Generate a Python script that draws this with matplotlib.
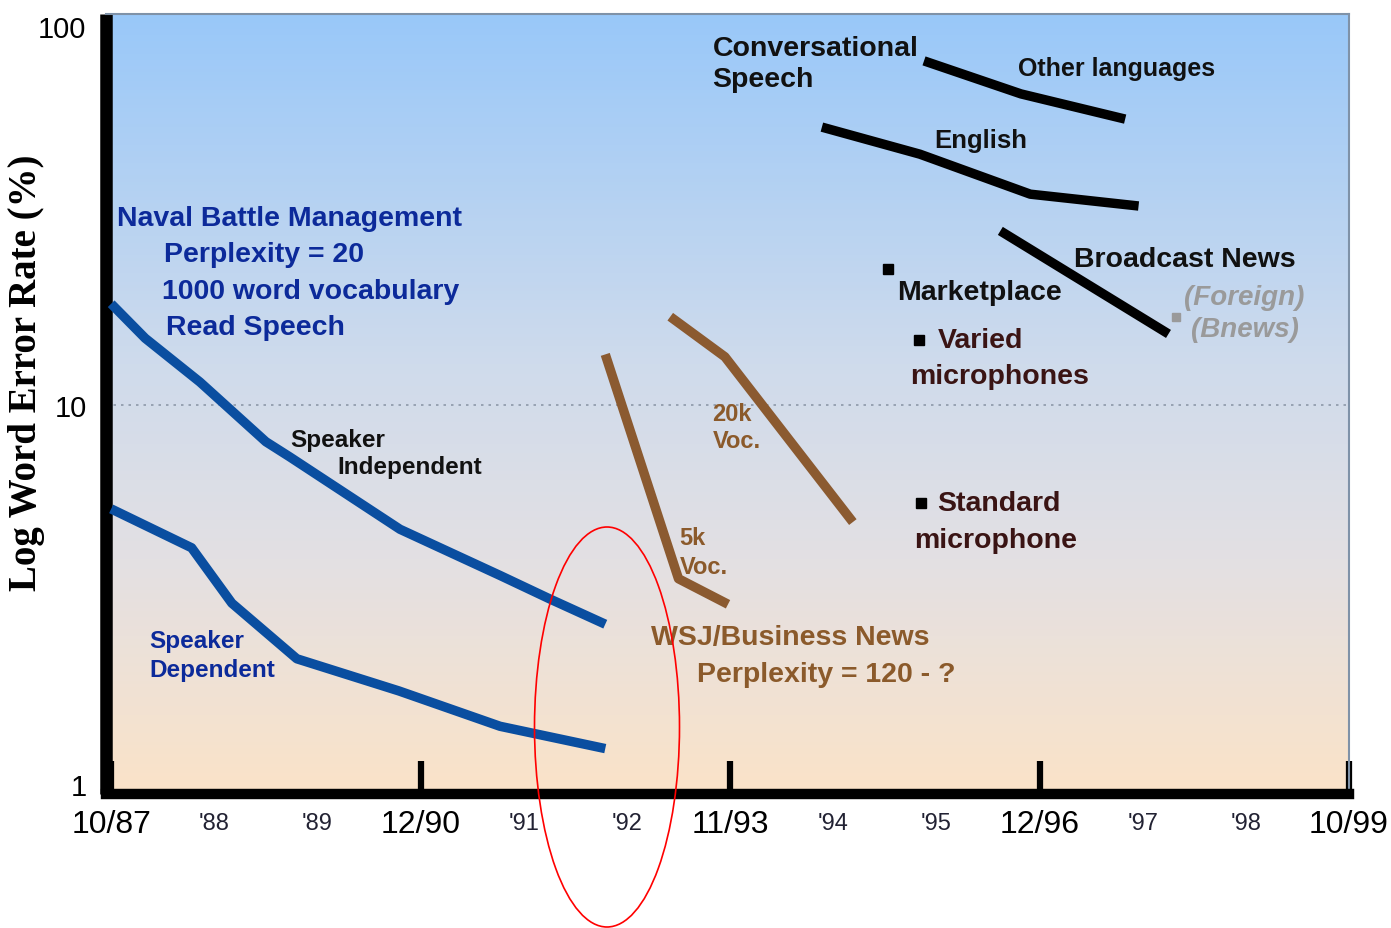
import numpy as np
import matplotlib
matplotlib.use("Agg")
import matplotlib.pyplot as plt
from matplotlib.colors import LinearSegmentedColormap
from matplotlib.patches import Ellipse

# ---------------- data ----------------
tick_pos = [0, 1, 2, 3, 4, 5, 6, 7, 8, 9, 10, 11, 12]
tick_labels = ["10/87", "'88", "'89", "12/90", "'91", "'92", "11/93",
               "'94", "'95", "12/96", "'97", "'98", "10/99"]
major_idx = [0, 3, 6, 9, 12]

si_x = [0.0, 0.33, 0.86, 1.50, 1.73, 2.80, 3.77, 4.25, 4.79]
si_y = [18.5, 15.0, 11.5, 8.0, 7.3, 4.7, 3.55, 3.08, 2.64]

sd_x = [0.0, 0.78, 1.17, 1.80, 2.79, 3.77, 4.79]
sd_y = [5.32, 4.20, 3.00, 2.14, 1.76, 1.42, 1.24]

wsj5k_x = [4.79, 5.50, 5.98]
wsj5k_y = [13.6, 3.48, 2.98]

wsj20k_x = [5.42, 5.95, 7.19]
wsj20k_y = [17.1, 13.4, 4.91]

eng_x = [6.89, 7.84, 8.91, 9.96]
eng_y = [54.1, 45.9, 36.0, 33.5]

oth_x = [7.88, 8.82, 9.83]
oth_y = [80.9, 66.2, 56.8]

bn_x = [8.62, 10.25]
bn_y = [28.8, 15.4]

mk_x = [7.53, 7.83, 7.85]
mk_y = [22.9, 14.8, 5.51]

fb_x = [10.32]
fb_y = [17.1]

# ---------------- figure ----------------
fig = plt.figure(figsize=(13.91, 9.29), dpi=100)
ax = fig.add_axes([106 / 1391, 1 - 795 / 929, 1243 / 1391, 780 / 929])
ax.set_yscale("log")
ax.set_xlim(-0.05, 12.0)
ax.set_ylim(10 ** (-10 / 379), 10 ** (770 / 379))

# gradient background
cmap = LinearSegmentedColormap.from_list(
    "bg", [(0.0, "#fbe3c8"), (0.3, "#e3e0e3"), (0.55, "#cfdbec"), (1.0, "#99c8f9")])
grad = np.linspace(0, 1, 256).reshape(-1, 1)
ax.imshow(grad, cmap=cmap, origin="lower", extent=[0, 1, 0, 1],
          transform=ax.transAxes, aspect="auto", zorder=0)

# dotted reference line at 10
ax.axhline(10, color="#8d98a8", lw=1.2, ls=(0, (1.5, 3)), zorder=1)

blue = "#0a4ea0"
brown = "#8b5a30"
LW = 6.8
ax.plot(si_x, si_y, color=blue, lw=LW, solid_capstyle="butt", zorder=3)
ax.plot(sd_x, sd_y, color=blue, lw=LW, solid_capstyle="butt", zorder=3)
ax.plot(wsj5k_x, wsj5k_y, color=brown, lw=LW, solid_capstyle="butt", zorder=3)
ax.plot(wsj20k_x, wsj20k_y, color=brown, lw=LW, solid_capstyle="butt", zorder=3)
ax.plot(eng_x, eng_y, color="black", lw=LW, solid_capstyle="butt", zorder=3)
ax.plot(oth_x, oth_y, color="black", lw=LW, solid_capstyle="butt", zorder=3)
ax.plot(bn_x, bn_y, color="black", lw=LW, solid_capstyle="butt", zorder=3)
ax.plot(mk_x, mk_y, ls="none", marker="s", ms=7, color="black", zorder=4)
ax.plot(fb_x, fb_y, ls="none", marker="s", ms=6, color="#9a9a9a", zorder=4)

# annotations
SANS = "Liberation Sans"
tblue = "#0c2a9a"
tbrown = "#8b5a2b"
tmaroon = "#3a1414"
texts = [
    (0.06, 31.1, "Naval Battle Management", tblue, 20.5, "normal"),
    (0.51, 25.0, "Perplexity = 20", tblue, 20.5, "normal"),
    (0.49, 20.0, "1000 word vocabulary", tblue, 20.5, "normal"),
    (0.53, 16.1, "Read Speech", tblue, 20.5, "normal"),
    (1.74, 8.13, "Speaker", "#111111", 17.5, "normal"),
    (2.19, 6.90, "Independent", "#111111", 17.5, "normal"),
    (0.37, 2.39, "Speaker", tblue, 17.5, "normal"),
    (0.37, 2.01, "Dependent", tblue, 17.5, "normal"),
    (5.83, 9.52, "20k", tbrown, 17, "normal"),
    (5.83, 8.08, "Voc.", tbrown, 17, "normal"),
    (5.51, 4.48, "5k", tbrown, 17, "normal"),
    (5.51, 3.74, "Voc.", tbrown, 17, "normal"),
    (5.23, 2.44, "WSJ/Business News", tbrown, 20.5, "normal"),
    (5.68, 1.95, "Perplexity = 120 - ?", tbrown, 20.5, "normal"),
    (5.83, 87.5, "Conversational", "#111111", 20.5, "normal"),
    (5.83, 72.5, "Speech", "#111111", 20.5, "normal"),
    (8.79, 77.5, "Other languages", "#111111", 18, "normal"),
    (7.98, 50.0, "English", "#111111", 18.5, "normal"),
    (9.33, 24.3, "Broadcast News", "#111111", 20.5, "normal"),
    (10.40, 19.3, "(Foreign)", "#9a9a9a", 20, "italic"),
    (10.47, 15.9, "(Bnews)", "#9a9a9a", 20, "italic"),
    (7.62, 19.9, "Marketplace", "#111111", 20.5, "normal"),
    (8.01, 14.8, "Varied", tmaroon, 20.5, "normal"),
    (7.75, 11.9, "microphones", tmaroon, 20.5, "normal"),
    (8.01, 5.51, "Standard", tmaroon, 20.5, "normal"),
    (7.78, 4.40, "microphone", tmaroon, 20.5, "normal"),
]
for x, y, s, c, fs, st in texts:
    ax.text(x, y, s, color=c, fontsize=fs, fontstyle=st, fontweight="bold",
            family=SANS, ha="left", va="center", zorder=5)

# axes styling
for side in ("top", "right"):
    ax.spines[side].set_color("#7f92a8")
    ax.spines[side].set_linewidth(1.5)
ax.spines["left"].set_linewidth(9)
ax.spines["bottom"].set_linewidth(7.5)
ax.spines["left"].set_color("black")
ax.spines["bottom"].set_color("black")
ax.spines["left"].set_capstyle("butt")

ax.set_xticks([tick_pos[i] for i in major_idx])
ax.set_xticklabels([tick_labels[i] for i in major_idx], fontsize=23, family=SANS)
minor_pos = [p for i, p in enumerate(tick_pos) if i not in major_idx]
minor_lab = [l for i, l in enumerate(tick_labels) if i not in major_idx]
ax.set_xticks(minor_pos, minor=True)
ax.set_xticklabels(minor_lab, minor=True, fontsize=17, family=SANS, color="#222233")
ax.tick_params(axis="x", which="major", direction="in", length=24, width=4.5,
               pad=11, color="black")
ax.tick_params(axis="x", which="minor", length=0, pad=13)

ax.set_yticks([1, 10, 100])
ax.set_yticklabels(["1", "10", "100"], fontsize=21, family=SANS)
ax.yaxis.set_minor_locator(matplotlib.ticker.NullLocator())
ax.tick_params(axis="y", which="major", length=0, pad=14)
ax.set_ylabel("Log Word Error Rate (%)", fontsize=28, family="Liberation Serif",
              fontweight="bold")
ax.yaxis.set_label_coords((45 - 106) / 1243, (795 - 373) / 780)

# red ellipse highlight
ell = Ellipse((607 / 1391, 1 - 728 / 929), 145 / 1391, 400 / 929,
              transform=fig.transFigure, fill=False, edgecolor="red", lw=1.2,
              clip_on=False, zorder=10)
fig.patches.append(ell)

fig.savefig("out.png", dpi=100)
